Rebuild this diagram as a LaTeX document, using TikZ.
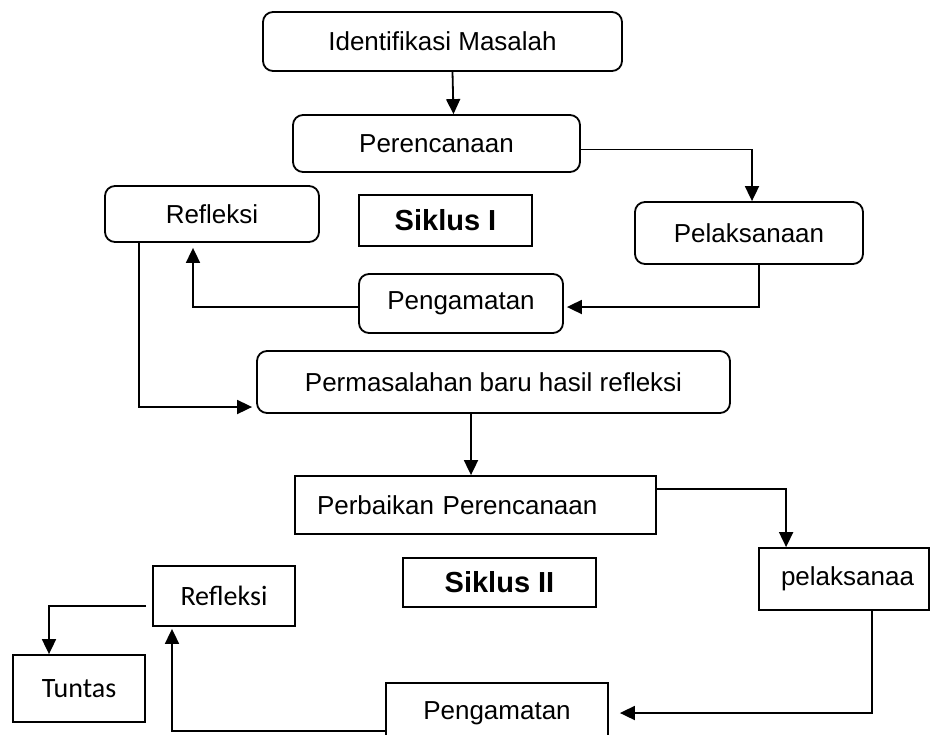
\documentclass[tikz,border=0pt]{standalone}
\usepackage{fontspec}
\setmainfont{Liberation Sans}
\newfontfamily\calib{Carlito}
\usetikzlibrary{arrows.meta}

\begin{document}
\begin{tikzpicture}[x=1pt,y=-1pt,line width=1.8pt,
  >={Triangle[length=15pt,width=14pt]},
  rbox/.style={draw,rounded corners=10pt,inner sep=0pt,font=\fontsize{26}{31}\selectfont},
  sbox/.style={draw,inner sep=0pt,font=\fontsize{26}{31}\selectfont},
  cbox/.style={sbox,font=\calib\fontsize{28}{33}\selectfont},
  sik/.style={sbox,font=\bfseries\fontsize{29}{34}\selectfont}]
  \useasboundingbox (0,0) rectangle (931,734);
  \clip (0,0) rectangle (931,734);
  \node[rbox,minimum width=359pt,minimum height=59pt] (idm) at (442.5,41.5) {Identifikasi Masalah};
  \node[rbox,minimum width=287pt,minimum height=57pt] (per) at (436.5,143.5) {Perencanaan};
  \node[rbox,minimum width=214pt,minimum height=56pt] (ref1) at (212,214) {Refleksi};
  \node[sik,minimum width=173pt,minimum height=51pt] (sik1) at (445.5,220.5) {Siklus I};
  \node[rbox,minimum width=228pt,minimum height=62pt] (pel) at (749,233) {Pelaksanaan};
  \node[rbox,minimum width=204pt,minimum height=59pt] (peng1) at (461,303.5) {Pengamatan};
  \node[rbox,minimum width=473pt,minimum height=62pt] (perm) at (493.5,382) {Permasalahan baru hasil refleksi};
  \node[sbox,inner xsep=22pt,text width=317pt,align=left,minimum height=58pt] (pb) at (475.5,505) {Perbaikan Perencanaan};
  \node[sik,minimum width=193pt,minimum height=49pt] (sik2) at (499.5,582.5) {Siklus II};
  \node[sbox,inner xsep=15pt,text width=140pt,align=left,minimum height=62pt] (pl2) at (844,579) {\hspace*{7pt}pelaksanaa};
  \node[cbox,minimum width=142pt,minimum height=60pt] (ref2) at (224,596) {Refleksi};
  \node[cbox,minimum width=132pt,minimum height=67pt] (tun) at (79,688.5) {Tuntas};
  \node[sbox,minimum width=222pt,minimum height=60pt] (peng2) at (497,713) {Pengamatan};

  \draw[->] ([xshift=10pt]idm.south) -- ([xshift=17pt]per.north);
  \draw[->] ([yshift=-6pt]per.east) -| ([xshift=3pt]pel.north);
  \draw[->] ([xshift=10pt]pel.south) |- ([shift={(3pt,-3.5pt)}]peng1.east);
  \draw[->] ([yshift=-3.5pt]peng1.west) -| ([shift={(-19pt,-5pt)}]ref1.south);
  \draw[->] ([xshift=-73pt]ref1.south) |- ([shift={(-4pt,-25pt)}]perm.west);
  \draw[->] ([xshift=-22.5pt]perm.south) -- ([xshift=-4.5pt]pb.north);
  \draw[->] ([yshift=16pt]pb.east) -| ([xshift=28pt]pl2.north west);
  \draw[->] ([xshift=28pt]pl2.south) |- ([xshift=11pt]peng2.east);
  \draw[->] ([yshift=-18pt]peng2.west) -| ([shift={(-52pt,-2pt)}]ref2.south);
  \draw[->] ([shift={(-6pt,-10pt)}]ref2.west) -| ([xshift=-30pt]tun.north);
\end{tikzpicture}
\end{document}
